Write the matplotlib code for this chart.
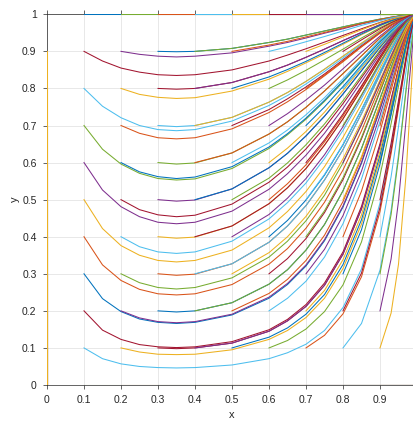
import numpy as np
import matplotlib
matplotlib.use("Agg")
import matplotlib.pyplot as plt

# start points of the trajectories (outer loop x0, inner loop y0)
START_X = [0.0, 0.1, 0.2, 0.3, 0.4, 0.5, 0.6, 0.7, 0.8, 0.9]
START_Y = [0.0, 0.1, 0.2, 0.3, 0.4, 0.5, 0.6, 0.7, 0.8, 0.9, 1.0]

# x samples for the trajectories starting at x0 = 0.1 ... 0.9
X01 = [0.1, 0.15, 0.2, 0.25, 0.3, 0.35, 0.4, 0.5, 0.6, 0.65, 0.7, 0.75, 0.8,
       0.85, 0.9, 0.93, 0.95, 0.97, 0.98, 0.99, 1.0]
X02 = [0.2, 0.25, 0.3, 0.35, 0.4, 0.5, 0.6, 0.65, 0.7, 0.75, 0.8, 0.85, 0.9,
       0.93, 0.95, 0.97, 0.98, 0.99, 1.0]
X03 = [0.3, 0.35, 0.4, 0.5, 0.6, 0.65, 0.7, 0.75, 0.8, 0.85, 0.9, 0.93, 0.95,
       0.97, 0.98, 0.99, 1.0]
X04 = [0.4, 0.5, 0.6, 0.65, 0.7, 0.75, 0.8, 0.85, 0.9, 0.93, 0.95, 0.97,
       0.98, 0.99, 1.0]
X05 = [0.5, 0.6, 0.65, 0.7, 0.75, 0.8, 0.85, 0.9, 0.93, 0.95, 0.97, 0.98,
       0.99, 1.0]
X06 = [0.6, 0.65, 0.7, 0.75, 0.8, 0.85, 0.9, 0.93, 0.95, 0.97, 0.98, 0.99, 1.0]
X07 = [0.7, 0.75, 0.8, 0.85, 0.9, 0.93, 0.95, 0.97, 0.98, 0.99, 1.0]
X08 = [0.8, 0.85, 0.9, 0.93, 0.95, 0.97, 0.98, 0.99, 1.0]
X09 = [0.9, 0.93, 0.95, 0.97, 0.98, 0.99, 1.0]

# y values (thousandths), one row per y0 = 0.1 ... 0.9
Y01 = [
    [100, 71, 57, 50, 47, 46, 47, 54, 71, 87, 110, 147, 209, 313, 491, 644, 761, 880, 933, 976, 1000],
    [200, 148, 123, 109, 103, 101, 103, 117, 149, 177, 217, 275, 359, 482, 651, 771, 853, 929, 961, 986, 1000],
    [300, 233, 198, 178, 169, 166, 169, 189, 234, 271, 321, 389, 480, 598, 743, 837, 897, 951, 973, 991, 1000],
    [400, 324, 282, 258, 246, 243, 246, 271, 326, 368, 423, 493, 580, 686, 806, 879, 925, 965, 981, 993, 1000],
    [500, 422, 376, 350, 336, 332, 336, 364, 424, 468, 522, 589, 668, 758, 855, 911, 945, 974, 986, 995, 1000],
    [600, 526, 481, 454, 439, 435, 439, 469, 528, 570, 620, 679, 746, 819, 893, 935, 960, 982, 990, 997, 1000],
    [700, 636, 596, 571, 557, 553, 556, 584, 638, 675, 717, 765, 817, 872, 926, 955, 973, 987, 993, 998, 1000],
    [800, 752, 721, 700, 689, 686, 689, 712, 754, 781, 812, 846, 882, 919, 954, 972, 983, 992, 996, 999, 1000],
    [900, 874, 855, 844, 837, 835, 837, 850, 874, 890, 907, 925, 943, 961, 978, 987, 992, 996, 998, 999, 1000],
]
Y02 = [
    [100, 89, 83, 82, 83, 95, 123, 147, 182, 234, 314, 434, 609, 739, 831, 917, 955, 984, 1000],
    [200, 181, 171, 168, 171, 191, 237, 274, 324, 392, 483, 601, 745, 838, 898, 951, 974, 991, 1000],
    [300, 276, 263, 259, 263, 289, 345, 388, 443, 512, 599, 702, 817, 886, 929, 967, 982, 994, 1000],
    [400, 373, 359, 355, 359, 388, 448, 492, 545, 611, 687, 773, 864, 917, 949, 976, 987, 996, 1000],
    [500, 473, 459, 454, 458, 488, 547, 588, 637, 694, 759, 829, 899, 939, 963, 983, 991, 997, 1000],
    [600, 575, 562, 557, 561, 589, 642, 678, 720, 768, 820, 874, 927, 956, 973, 988, 993, 998, 1000],
    [700, 679, 667, 664, 667, 691, 735, 764, 797, 834, 872, 912, 949, 970, 982, 992, 995, 998, 1000],
    [800, 784, 776, 773, 775, 793, 825, 846, 869, 893, 919, 945, 969, 981, 989, 995, 997, 999, 1000],
    [900, 892, 887, 885, 887, 896, 914, 924, 936, 949, 961, 974, 985, 991, 995, 998, 999, 999, 1000],
]
Y03 = [
    [100, 98, 100, 113, 145, 173, 212, 269, 353, 475, 645, 767, 850, 927, 960, 986, 1000],
    [200, 197, 200, 222, 272, 311, 364, 433, 524, 638, 772, 856, 910, 957, 977, 992, 1000],
    [300, 296, 299, 327, 385, 429, 484, 553, 635, 732, 837, 900, 938, 971, 984, 995, 1000],
    [400, 396, 399, 429, 489, 532, 584, 647, 718, 798, 880, 927, 955, 979, 989, 996, 1000],
    [500, 496, 499, 529, 586, 625, 672, 725, 785, 848, 911, 946, 967, 985, 992, 997, 1000],
    [600, 596, 599, 626, 677, 710, 749, 793, 840, 888, 936, 961, 977, 989, 994, 998, 1000],
    [700, 697, 700, 722, 763, 789, 819, 852, 887, 922, 956, 974, 984, 993, 996, 999, 1000],
    [800, 798, 800, 816, 845, 863, 884, 906, 929, 951, 972, 984, 990, 995, 998, 999, 1000],
    [900, 899, 900, 908, 924, 933, 944, 955, 966, 977, 987, 992, 995, 998, 999, 999, 1000],
]
Y04 = [
    [100, 113, 145, 173, 212, 269, 353, 475, 645, 767, 850, 927, 960, 986, 1000],
    [200, 222, 272, 311, 364, 433, 524, 638, 772, 856, 910, 957, 977, 992, 1000],
    [300, 327, 385, 429, 484, 553, 635, 732, 837, 900, 938, 971, 984, 995, 1000],
    [400, 429, 489, 532, 584, 647, 718, 798, 880, 927, 955, 979, 989, 996, 1000],
    [500, 529, 586, 625, 672, 725, 785, 848, 911, 946, 967, 985, 992, 997, 1000],
    [600, 626, 677, 710, 749, 793, 840, 888, 936, 961, 977, 989, 994, 998, 1000],
    [700, 722, 763, 789, 819, 852, 887, 922, 956, 974, 984, 993, 996, 999, 1000],
    [800, 816, 845, 863, 884, 906, 929, 951, 972, 984, 990, 995, 998, 999, 1000],
    [900, 908, 924, 933, 944, 955, 966, 977, 987, 992, 995, 998, 999, 999, 1000],
]
Y05 = [
    [100, 129, 154, 191, 244, 325, 446, 620, 748, 837, 920, 956, 985, 1000],
    [200, 247, 285, 336, 404, 495, 612, 753, 844, 902, 953, 975, 991, 1000],
    [300, 357, 400, 455, 524, 610, 711, 823, 890, 932, 968, 983, 994, 1000],
    [400, 460, 504, 557, 621, 697, 781, 869, 920, 951, 977, 988, 996, 1000],
    [500, 558, 599, 648, 704, 767, 835, 903, 941, 964, 983, 991, 997, 1000],
    [600, 653, 688, 729, 775, 826, 878, 930, 958, 974, 988, 994, 998, 1000],
    [700, 743, 772, 804, 839, 877, 915, 951, 971, 982, 992, 996, 998, 1000],
    [800, 831, 851, 873, 897, 922, 947, 970, 982, 989, 995, 997, 999, 1000],
    [900, 917, 927, 939, 951, 963, 975, 986, 992, 995, 998, 999, 999, 1000],
]
Y06 = [
    [100, 120, 151, 198, 270, 386, 565, 705, 806, 904, 947, 982, 1000],
    [200, 234, 280, 345, 435, 556, 711, 814, 882, 944, 969, 989, 1000],
    [300, 341, 395, 465, 554, 664, 791, 869, 918, 961, 979, 993, 1000],
    [400, 444, 499, 566, 648, 742, 844, 904, 941, 972, 985, 995, 1000],
    [500, 543, 594, 656, 726, 804, 884, 929, 957, 980, 989, 996, 1000],
    [600, 639, 684, 736, 794, 855, 915, 949, 969, 986, 992, 997, 1000],
    [700, 732, 769, 809, 853, 898, 941, 965, 979, 990, 995, 998, 1000],
    [800, 823, 849, 877, 906, 936, 964, 978, 987, 994, 997, 999, 1000],
    [900, 912, 926, 940, 955, 970, 983, 990, 994, 997, 998, 999, 1000],
]
Y07 = [
    [100, 134, 192, 292, 468, 624, 746, 872, 928, 975, 1000],
    [200, 255, 338, 459, 631, 756, 843, 924, 958, 985, 1000],
    [300, 366, 457, 577, 727, 826, 890, 947, 971, 990, 1000],
    [400, 470, 559, 668, 794, 871, 920, 962, 979, 993, 1000],
    [500, 568, 649, 743, 845, 904, 941, 972, 985, 995, 1000],
    [600, 661, 731, 807, 886, 931, 957, 980, 989, 996, 1000],
    [700, 750, 805, 863, 920, 952, 971, 986, 993, 997, 1000],
    [800, 836, 874, 913, 950, 970, 982, 992, 996, 998, 1000],
    [900, 919, 939, 958, 977, 986, 992, 996, 998, 999, 1000],
]
Y08 = [
    [100, 166, 310, 471, 621, 796, 883, 958, 1000],
    [200, 302, 479, 634, 754, 876, 931, 976, 1000],
    [300, 419, 596, 729, 824, 914, 952, 983, 1000],
    [400, 523, 684, 795, 870, 937, 966, 988, 1000],
    [500, 616, 757, 846, 903, 954, 975, 991, 1000],
    [600, 703, 818, 887, 930, 967, 982, 994, 1000],
    [700, 783, 871, 921, 951, 977, 988, 996, 1000],
    [800, 859, 918, 951, 970, 986, 992, 997, 1000],
    [900, 931, 961, 977, 986, 993, 997, 999, 1000],
]
Y09 = [
    [100, 194, 326, 563, 725, 893, 1000],
    [200, 340, 496, 710, 828, 937, 1000],
    [300, 460, 611, 790, 879, 956, 1000],
    [400, 562, 697, 843, 912, 969, 1000],
    [500, 652, 767, 883, 935, 977, 1000],
    [600, 733, 826, 915, 953, 984, 1000],
    [700, 807, 877, 941, 968, 989, 1000],
    [800, 875, 922, 963, 980, 993, 1000],
    [900, 939, 963, 983, 991, 997, 1000],
]

X_COLS = [None, X01, X02, X03, X04, X05, X06, X07, X08, X09]
Y_COLS = [None, Y01, Y02, Y03, Y04, Y05, Y06, Y07, Y08, Y09]

TICKS = [0, 0.1, 0.2, 0.3, 0.4, 0.5, 0.6, 0.7, 0.8, 0.9, 1]
TICK_LABELS = ["0", "0.1", "0.2", "0.3", "0.4", "0.5", "0.6", "0.7", "0.8", "0.9", "1"]

# MATLAB default line colours
MATLAB = ["#0072BD", "#D95319", "#EDB120", "#7E2F8E", "#77AC30", "#4DBEEE", "#A2142F"]

plt.rcParams["font.family"] = ["Liberation Sans", "DejaVu Sans"]
fig = plt.figure(figsize=(4.14, 4.21), dpi=100)
ax = fig.add_axes([47/414, 36/421, 370/414, 370.7/421])
ax.set_prop_cycle(color=MATLAB)

LW = 0.75
for i, x0 in enumerate(START_X):
    for j, y0 in enumerate(START_Y):
        if x0 == 0:
            if y0 in (0.0, 1.0):
                ax.plot([x0], [y0])      # rest point, keeps the colour order
            else:
                ax.plot([x0, x0], [y0, START_Y[0]], lw=LW, zorder=3)
        elif y0 in (0.0, 1.0):
            ax.plot([x0, X_COLS[i][-1]], [y0, y0], lw=LW, zorder=3)
        else:
            ax.plot(X_COLS[i], np.array(Y_COLS[i][j - 1]) / 1000, lw=LW)

ax.set_xlim(0, 1)
ax.set_ylim(0, 1)
ax.set_xticks(TICKS[:-1], TICK_LABELS[:-1])
ax.set_yticks(TICKS, TICK_LABELS)
ax.grid(True, color="#dedede", lw=0.5)
ax.set_axisbelow(True)
for s in ax.spines.values():
    s.set_linewidth(0.5)
    s.set_color("#262626")
ax.tick_params(direction="out", length=3, width=0.5, colors="#262626",
               labelsize=7.5, pad=4.5, top=True)
ax.set_xlabel("x", fontsize=8, color="#262626", labelpad=3.5)
ax.set_ylabel("y", fontsize=8, color="#262626", labelpad=1.5)

fig.savefig("out.png", dpi=100)
plt.close(fig)
